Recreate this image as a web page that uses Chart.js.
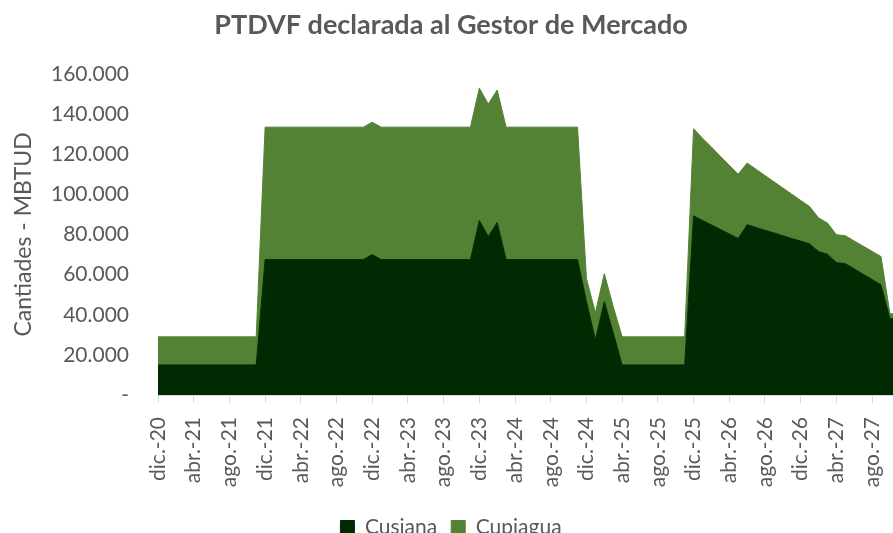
<!DOCTYPE html>
<html>
<head>
<meta charset="utf-8">
<script src="https://cdn.jsdelivr.net/npm/chart.js@4"></script>
<style>
  html, body { margin: 0; padding: 0; overflow: hidden; background: #fff; }
  #wrap { width: 893px; height: 533px; overflow: hidden; }
</style>
</head>
<body>
<div id="wrap"><canvas id="chart" width="947" height="548"></canvas></div>
<script>
// meses dic.-20 .. dic.-27
const monthNames = ['ene.', 'feb.', 'mar.', 'abr.', 'may.', 'jun.', 'jul.', 'ago.', 'sep.', 'oct.', 'nov.', 'dic.'];
const months = ['dic.-20'];
for (let y = 21; y <= 27; y++) {
    for (const m of monthNames) months.push(m + '-' + y);
}

// MBTUD
const cusiana = [
    15000, 15000, 15000, 15000, 15000, 15000, 15000, 15000, 15000, 15000, 15000, 15000,
    67500, 67500, 67500, 67500, 67500, 67500, 67500, 67500, 67500, 67500, 67500, 67500,
    70000, 67500, 67500, 67500, 67500, 67500, 67500, 67500, 67500, 67500, 67500, 67500,
    87000, 79000, 86000, 67500, 67500, 67500, 67500, 67500, 67500, 67500, 67500, 67500,
    46500, 27500, 46500, 31000, 15000, 15000, 15000, 15000, 15000, 15000, 15000, 15000,
    89300, 87000, 84800, 82500, 80300, 78000, 84900, 83500, 82100, 80800, 79400, 78000,
    76700, 75300, 71500, 70200, 66000, 65500, 62900, 60200, 57600, 54900, 38000, 38000,
    38000
];
const cupiagua = [
    14000, 14000, 14000, 14000, 14000, 14000, 14000, 14000, 14000, 14000, 14000, 14000,
    66000, 66000, 66000, 66000, 66000, 66000, 66000, 66000, 66000, 66000, 66000, 66000,
    66000, 66000, 66000, 66000, 66000, 66000, 66000, 66000, 66000, 66000, 66000, 66000,
    66000, 66000, 66000, 66000, 66000, 66000, 66000, 66000, 66000, 66000, 66000, 66000,
    11500, 13500, 14000, 13000, 14000, 14000, 14000, 14000, 14000, 14000, 14000, 14000,
    43400, 41000, 38800, 36500, 34200, 32000, 30700, 29000, 27300, 25500, 23800, 22100,
    20300, 18600, 16800, 15500, 13900, 13900, 13900, 14000, 14000, 14100, 2500, 2500,
    2500
];

const textColor = '#595959';
const fontFamily = 'Lato, "Open Sans", sans-serif';

new Chart(
    document.getElementById('chart'),
    {
        type: 'line',
        data: {
            labels: months,
            datasets: [
                {
                    label: 'Cusiana',
                    data: cusiana,
                    backgroundColor: '#012a03',
                    borderColor: '#012a03',
                    borderWidth: 1,
                    pointRadius: 0,
                    fill: 'origin'
                },
                {
                    label: 'Cupiagua',
                    data: cupiagua,
                    backgroundColor: '#548235',
                    borderColor: '#548235',
                    borderWidth: 1,
                    pointRadius: 0,
                    fill: '-1'
                }
            ]
        },
        options: {
            responsive: false,
            animation: false,
            // the original picture is cut on the right, so the canvas runs past the window
            layout: { padding: { left: -10, right: 35, top: 0, bottom: 0 } },
            plugins: {
                title: {
                    display: true,
                    text: 'PTDVF declarada al Gestor de Mercado',
                    color: textColor,
                    font: { family: fontFamily, size: 27, weight: 'bold' },
                    padding: { top: 9, bottom: 32.6 }
                },
                legend: {
                    position: 'bottom',
                    labels: {
                        color: textColor,
                        font: { family: fontFamily, size: 21 },
                        boxWidth: 14,
                        boxHeight: 14,
                        padding: 14
                    }
                },
                tooltip: { enabled: false }
            },
            scales: {
                x: {
                    offset: false,
                    grid: {
                        display: true,
                        drawOnChartArea: false,
                        drawTicks: true,
                        tickLength: 8,
                        color: '#d9d9d9'
                    },
                    border: { display: true, color: '#d9d9d9', width: 1 },
                    ticks: {
                        autoSkip: false,
                        minRotation: 90,
                        maxRotation: 90,
                        padding: 14,
                        color: textColor,
                        font: { family: fontFamily, size: 21 },
                        callback: function (value, index) {
                            return index % 4 === 0 ? this.getLabelForValue(value) : null;
                        }
                    },
                    afterFit: function (scale) { scale.height = 108; }
                },
                y: {
                    stacked: true,
                    min: 0,
                    max: 160000,
                    grid: { display: false, drawTicks: false },
                    border: { display: false },
                    ticks: {
                        stepSize: 20000,
                        padding: 29,
                        color: textColor,
                        font: { family: fontFamily, size: 21 },
                        callback: v => v === 0 ? '-' : String(v).replace(/\B(?=(\d{3})+(?!\d))/g, '.')
                    },
                    title: {
                        display: true,
                        text: 'Cantiades - MBTUD',
                        color: textColor,
                        font: { family: fontFamily, size: 23 },
                        padding: { top: 20, bottom: 0 }
                    },
                    afterFit: function (scale) { scale.width = 168; }
                }
            }
        }
    }
);
</script>
</body>
</html>
